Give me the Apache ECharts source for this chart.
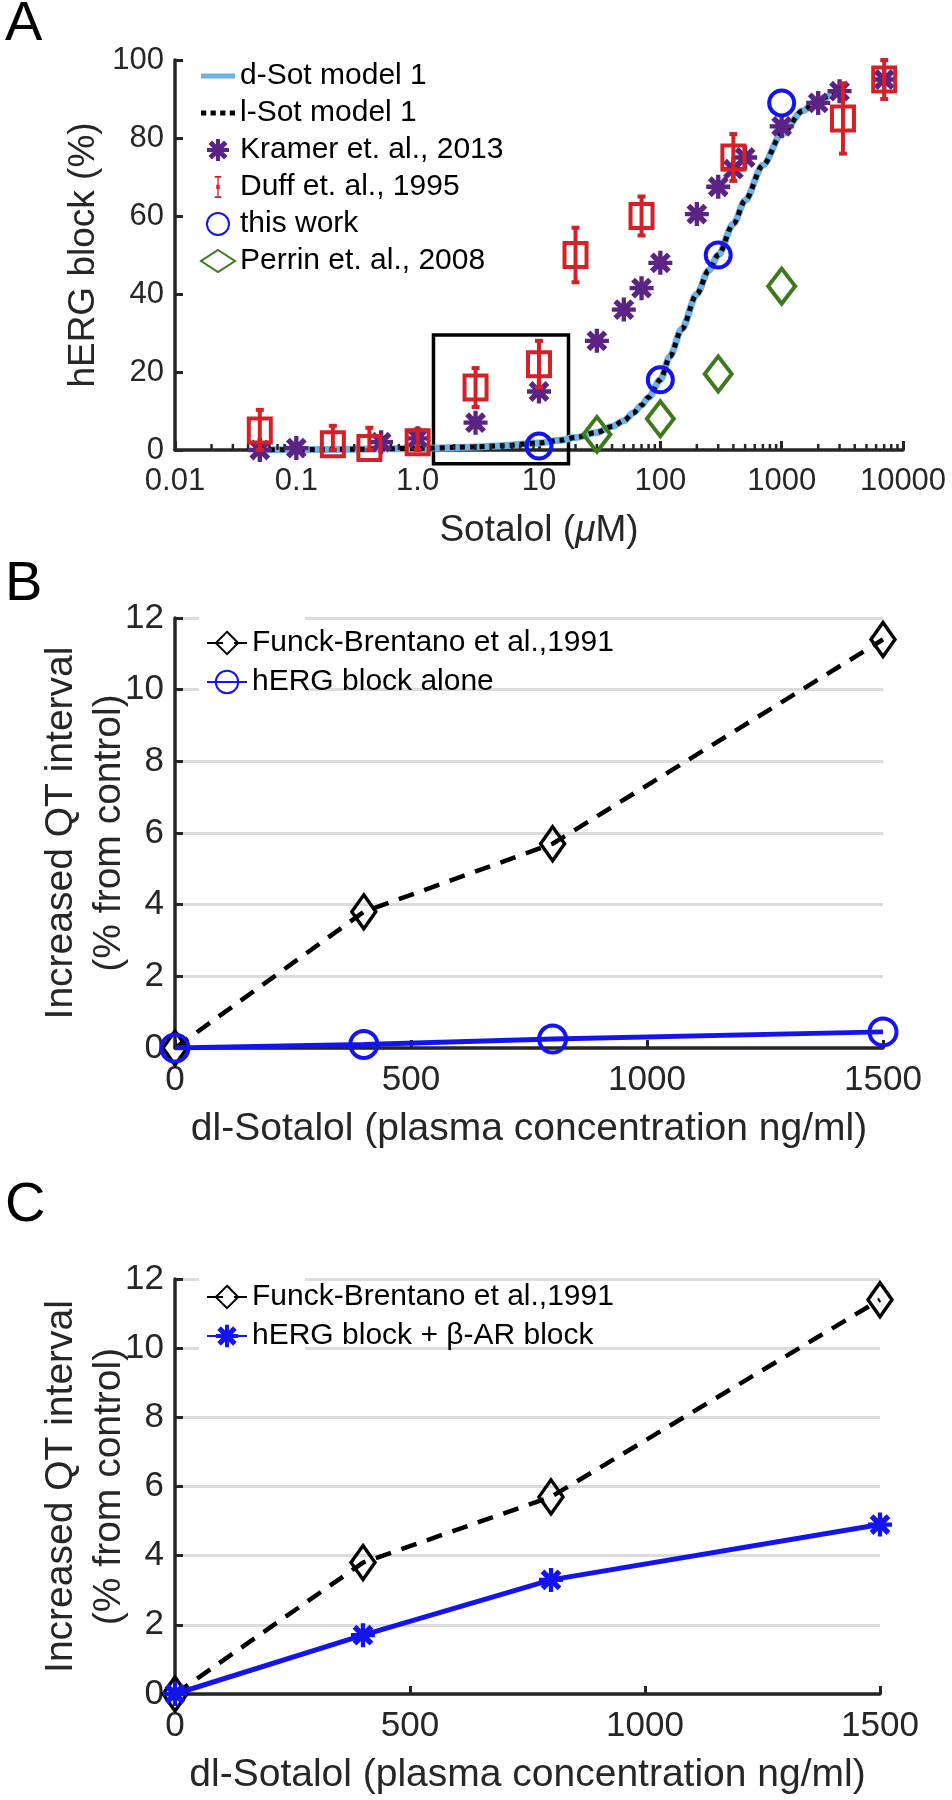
<!DOCTYPE html>
<html>
<head>
<meta charset="utf-8">
<script src="https://cdn.jsdelivr.net/npm/echarts@6.0.0/dist/echarts.min.js"></script>
<style>
  html, body { margin: 0; padding: 0; background: #fff; }
  #chart { width: 952px; height: 1800px; }
</style>
</head>
<body>
<div id="chart"></div>
<script>
// ---- panel A: hERG block vs sotalol ----
var aTickVals = [0.01, 0.1, 1, 10, 100, 1000, 10000];
var aTickLabels = ['0.01', '0.1', '1.0', '10', '100', '1000', '10000'];
var aMinorMults = [2, 3, 4, 5, 6, 7, 8, 9];

var modelX = [0.05, 0.1, 0.3, 1, 3, 5, 10, 15, 20, 30, 40, 50, 60, 70, 80, 100, 120, 150, 200, 250, 300, 400, 500, 700, 1000, 1500, 2000, 3000];
var dSotY  = [0, 0.1, 0.2, 0.4, 0.8, 1.1, 1.8, 2.5, 3.2, 4.5, 6, 7.5, 9.5, 11.5, 13.5, 18, 24, 31, 40, 46, 50, 58, 64, 73, 81, 87, 90, 92];
var lSotY  = [0, 0.1, 0.2, 0.4, 0.8, 1.1, 1.8, 2.5, 3.2, 4.5, 6, 7.5, 9.5, 11.5, 13.5, 18, 24, 31, 40, 46, 50, 58, 64, 73, 81, 87, 90, 92];

var kramerX = [0.05, 0.1, 0.5, 1, 3, 10, 30, 50, 70, 100, 200, 300, 400, 500, 1000, 2000, 3000, 7000];
var kramerY = [0, 0.5, 2, 3, 7, 15, 28, 36, 41.5, 48, 60.5, 67.5, 72, 75, 83, 89, 92, 95];

var duffX  = [0.05, 0.2, 0.4, 1, 3, 10, 20, 70, 400, 3200, 7000];
var duffY  = [5, 1.5, 0.5, 2, 16, 22, 50, 60, 75, 85, 95];
var duffLo = [0, 0, 0, 0, 11, 16, 43, 55, 69, 76, 90];
var duffHi = [10.3, 6.2, 5.7, 5.3, 21, 28, 57, 65, 81, 94, 100];

var thisWorkX = [10, 100, 300, 1000];
var thisWorkY = [1, 18, 50, 89];

var perrinX = [30, 100, 300, 1000];
var perrinY = [4, 8, 19.5, 42];

// highlighted region [x0, y0, x1, y1]
var boxRegion = [1.35, -3.5, 17.5, 29.5];

// ---- panels B and C: QT prolongation ----
var qtX = [0, 400, 800, 1500];
var funckY = [0, 3.8, 5.7, 11.4];
var hergAloneY = [0, 0.1, 0.25, 0.45];
var hergBetaY = [0, 1.7, 3.3, 4.9];

var FONT = '"Liberation Sans", Arial, Helvetica, sans-serif';
var AX = '#262626';
var RED = '#d42027';
var PURPLE = '#5b2383';
var BLUE = '#1414f0';
var GREEN = '#3d7a1b';
var LIGHTBLUE = '#6cb2e8';
var GRIDGRAY = '#dcdcdc';

var ASTERISK = 'path://M4.1,0 L5.9,0 L5.9,10 L4.1,10 Z M0,4.1 L10,4.1 L10,5.9 L0,5.9 Z ' +
  'M2.27,0.67 L9.33,7.73 L7.73,9.33 L0.67,2.27 Z M7.73,0.67 L9.33,2.27 L2.27,9.33 L0.67,7.73 Z';
var ERRBAR = 'path://M0,0 H6 V1.5 H3.6 V8 H4.6 V12 H3.6 V18.5 H6 V20 H0 V18.5 H2.4 V12 H1.4 V8 H2.4 V1.5 H0 Z';
var SOLIDLINE = 'path://M0,0 H20 V3 H0 Z';
var DOTLINE = 'path://M0,0 H3 V3 H0 Z M5.5,0 H8.5 V3 H5.5 Z M11,0 H14 V3 H11 Z M16.5,0 H19.5 V3 H16.5 Z';

function pairs(xs, ys) {
  return xs.map(function (x, i) { return [x, ys[i]]; });
}

var minorTicks = [];
aTickVals.slice(0, -1).forEach(function (d) {
  aMinorMults.forEach(function (m) { minorTicks.push([d * m, 0]); });
});

function renderMinorTick(params, api) {
  var p = api.coord([api.value(0), 0]);
  return {
    type: 'line',
    shape: {x1: p[0], y1: p[1], x2: p[0], y2: p[1] - 6},
    style: {stroke: AX, lineWidth: 2.5}
  };
}

function renderBox(params, api) {
  var a = api.coord([api.value(0), api.value(3)]);
  var b = api.coord([api.value(2), api.value(1)]);
  return {
    type: 'rect',
    shape: {x: a[0], y: a[1], width: b[0] - a[0], height: b[1] - a[1]},
    style: {fill: 'none', stroke: '#000', lineWidth: 3.5}
  };
}

function renderErrBar(params, api) {
  var x = api.value(0);
  var c = api.coord([x, api.value(1)]);
  var lo = api.coord([x, api.value(2)]);
  var hi = api.coord([x, api.value(3)]);
  function st() { return {stroke: RED, lineWidth: 4, fill: 'none'}; }
  return {
    type: 'group',
    children: [
      {type: 'line', shape: {x1: c[0], y1: lo[1], x2: c[0], y2: hi[1]}, style: st()},
      {type: 'line', shape: {x1: c[0] - 4, y1: hi[1], x2: c[0] + 4, y2: hi[1]}, style: st()},
      {type: 'line', shape: {x1: c[0] - 4, y1: lo[1], x2: c[0] + 4, y2: lo[1]}, style: st()},
      {type: 'rect', shape: {x: c[0] - 11, y: c[1] - 12, width: 22, height: 24}, style: st()}
    ]
  };
}

function valueAxis(grid, min, max, interval, name, nameGap, nameSize, labelSize, split) {
  return {
    gridIndex: grid, type: 'value', min: min, max: max, interval: interval,
    name: name, nameLocation: 'middle', nameGap: nameGap, nameMoveOverlap: false,
    nameTextStyle: {fontSize: nameSize, color: AX, fontFamily: FONT, lineHeight: 48},
    axisLine: {show: true, onZero: false, lineStyle: {color: AX, width: 3.5}},
    axisTick: {show: true, inside: true, length: 8, lineStyle: {color: AX, width: 3}},
    axisLabel: {fontSize: labelSize, color: AX, fontFamily: FONT, margin: 11},
    splitLine: {show: split, lineStyle: {color: GRIDGRAY, width: 3}}
  };
}

function qtXAxis(grid) {
  return {
    gridIndex: grid, type: 'value', min: 0, max: 1500, interval: 500,
    name: 'dl-Sotalol (plasma concentration ng/ml)', nameLocation: 'middle', nameGap: 62,
    nameMoveOverlap: false,
    nameTextStyle: {fontSize: 39, color: AX, fontFamily: FONT},
    axisLine: {show: true, lineStyle: {color: AX, width: 3.5}},
    axisTick: {show: true, inside: true, length: 8, lineStyle: {color: AX, width: 3}},
    axisLabel: {fontSize: 35, color: AX, fontFamily: FONT, margin: 15,
      formatter: function (v) { return String(v); }},
    splitLine: {show: false}
  };
}

function funckSeries(xi, yi) {
  return {
    name: 'Funck-Brentano et al.,1991', type: 'line', xAxisIndex: xi, yAxisIndex: yi,
    data: pairs(qtX, funckY),
    symbol: 'diamond', symbolSize: [24, 34], showAllSymbol: true,
    lineStyle: {color: '#000', width: 4.5, type: [16, 11]},
    itemStyle: {color: 'rgba(0,0,0,0)', borderColor: '#000', borderWidth: 3.5},
    z: 3
  };
}

var chart = echarts.init(document.getElementById('chart'), null, {renderer: 'canvas'});

var option = {
  animation: false,
  backgroundColor: '#fff',
  textStyle: {fontFamily: FONT},
  grid: [
    {left: 175, top: 60, width: 728, height: 390},
    {left: 175, top: 618, width: 708, height: 430},
    {left: 175, top: 1279, width: 705, height: 415}
  ],
  xAxis: [
    {
      gridIndex: 0, type: 'log', logBase: 10, min: 0.01, max: 10000, splitNumber: 6,
      name: 'Sotalol ({mu|μ}M)', nameLocation: 'middle', nameGap: 62, nameMoveOverlap: false,
      nameTextStyle: {fontSize: 37, color: AX, fontFamily: FONT,
        rich: {mu: {fontSize: 37, fontStyle: 'italic', color: AX, fontFamily: FONT}}},
      axisLine: {show: true, lineStyle: {color: AX, width: 3.5}},
      axisTick: {show: true, inside: true, length: 9, lineStyle: {color: AX, width: 3}},
      axisLabel: {
        fontSize: 31, color: AX, fontFamily: FONT, margin: 16, interval: 0,
        showMinLabel: true, showMaxLabel: true,
        formatter: function (v) {
          var i = Math.round(Math.log10(v)) + 2;
          return aTickLabels[i] !== undefined ? aTickLabels[i] : '';
        }
      },
      splitLine: {show: false}
    },
    qtXAxis(1),
    qtXAxis(2)
  ],
  yAxis: [
    valueAxis(0, 0, 100, 20, 'hERG block (%)', 67, 37, 31, false),
    valueAxis(1, 0, 12, 2, 'Increased QT interval\n(% from control)', 42, 39, 35, true),
    valueAxis(2, 0, 12, 2, 'Increased QT interval\n(% from control)', 42, 39, 35, true)
  ],
  legend: [
    {
      orient: 'vertical', left: 200, top: 61, padding: 0, itemGap: 7,
      itemWidth: 34, itemHeight: 22, selectedMode: false,
      textStyle: {fontSize: 30, lineHeight: 30, color: '#000', fontFamily: FONT},
      data: [
        {name: 'd-Sot model 1', icon: SOLIDLINE, itemStyle: {color: LIGHTBLUE}},
        {name: 'l-Sot model 1', icon: DOTLINE, itemStyle: {color: '#000'}},
        'Kramer et. al., 2013',
        {name: 'Duff et. al., 1995', icon: ERRBAR, itemStyle: {color: RED}},
        'this work',
        'Perrin et. al., 2008'
      ]
    },
    {
      orient: 'vertical', left: 206, top: 627, padding: 0, itemGap: 7,
      itemWidth: 40, itemHeight: 28, selectedMode: false,
      textStyle: {fontSize: 30, lineHeight: 32, color: '#000', fontFamily: FONT},
      data: ['Funck-Brentano et al.,1991', 'hERG block alone']
    },
    {
      orient: 'vertical', left: 206, top: 1281, padding: 0, itemGap: 7,
      itemWidth: 40, itemHeight: 28, selectedMode: false,
      textStyle: {fontSize: 30, lineHeight: 32, color: '#000', fontFamily: FONT},
      data: ['Funck-Brentano et al.,1991', 'hERG block + β-AR block']
    }
  ],
  graphic: [
    {type: 'rect', z: 1, shape: {x: 199, y: 611, width: 106, height: 86}, style: {fill: '#fff'}},
    {type: 'rect', z: 1, shape: {x: 199, y: 1272, width: 106, height: 84}, style: {fill: '#fff'}},
    {type: 'text', left: 5, top: -3, style: {text: 'A', fontSize: 56, fontFamily: FONT, fill: '#000'}},
    {type: 'text', left: 5, top: 557, style: {text: 'B', fontSize: 56, fontFamily: FONT, fill: '#000'}},
    {type: 'text', left: 5, top: 1178, style: {text: 'C', fontSize: 56, fontFamily: FONT, fill: '#000'}}
  ],
  series: [
    {
      type: 'custom', xAxisIndex: 0, yAxisIndex: 0, silent: true, z: 3,
      data: minorTicks, renderItem: renderMinorTick
    },
    {
      type: 'custom', xAxisIndex: 0, yAxisIndex: 0, silent: true, z: 2,
      data: [boxRegion], renderItem: renderBox
    },
    {
      name: 'd-Sot model 1', type: 'line', xAxisIndex: 0, yAxisIndex: 0,
      data: pairs(modelX, dSotY), symbol: 'none', smooth: 0.3, smoothMonotone: 'x',
      lineStyle: {color: LIGHTBLUE, width: 7}, itemStyle: {color: LIGHTBLUE}, z: 2
    },
    {
      name: 'l-Sot model 1', type: 'line', xAxisIndex: 0, yAxisIndex: 0,
      data: pairs(modelX, lSotY), symbol: 'none', smooth: 0.3, smoothMonotone: 'x',
      lineStyle: {color: '#000', width: 5, type: [5, 5]}, itemStyle: {color: '#000'}, z: 2
    },
    {
      name: 'Kramer et. al., 2013', type: 'scatter', xAxisIndex: 0, yAxisIndex: 0,
      data: pairs(kramerX, kramerY), symbol: ASTERISK, symbolSize: 24,
      itemStyle: {color: PURPLE, opacity: 1}, z: 3
    },
    {
      name: 'Duff et. al., 1995', type: 'custom', xAxisIndex: 0, yAxisIndex: 0,
      data: duffX.map(function (x, i) { return [x, duffY[i], duffLo[i], duffHi[i]]; }),
      renderItem: renderErrBar, itemStyle: {color: RED}, z: 4
    },
    {
      name: 'this work', type: 'scatter', xAxisIndex: 0, yAxisIndex: 0,
      data: pairs(thisWorkX, thisWorkY), symbol: 'circle', symbolSize: 25,
      itemStyle: {color: 'rgba(0,0,0,0)', borderColor: BLUE, borderWidth: 4, opacity: 1}, z: 4
    },
    {
      name: 'Perrin et. al., 2008', type: 'scatter', xAxisIndex: 0, yAxisIndex: 0,
      data: pairs(perrinX, perrinY), symbol: 'diamond', symbolSize: [27, 35],
      itemStyle: {color: 'rgba(0,0,0,0)', borderColor: GREEN, borderWidth: 4, opacity: 1}, z: 5
    },
    funckSeries(1, 1),
    {
      name: 'hERG block alone', type: 'line', xAxisIndex: 1, yAxisIndex: 1,
      data: pairs(qtX, hergAloneY), symbol: 'circle', symbolSize: 27, showAllSymbol: true,
      lineStyle: {color: BLUE, width: 5},
      itemStyle: {color: 'rgba(0,0,0,0)', borderColor: BLUE, borderWidth: 4}, z: 4
    },
    funckSeries(2, 2),
    {
      name: 'hERG block + β-AR block', type: 'line', xAxisIndex: 2, yAxisIndex: 2,
      data: pairs(qtX, hergBetaY), symbol: ASTERISK, symbolSize: 24, showAllSymbol: true,
      lineStyle: {color: BLUE, width: 5},
      itemStyle: {color: BLUE}, z: 4
    }
  ]
};

chart.setOption(option);
</script>
</body>
</html>
